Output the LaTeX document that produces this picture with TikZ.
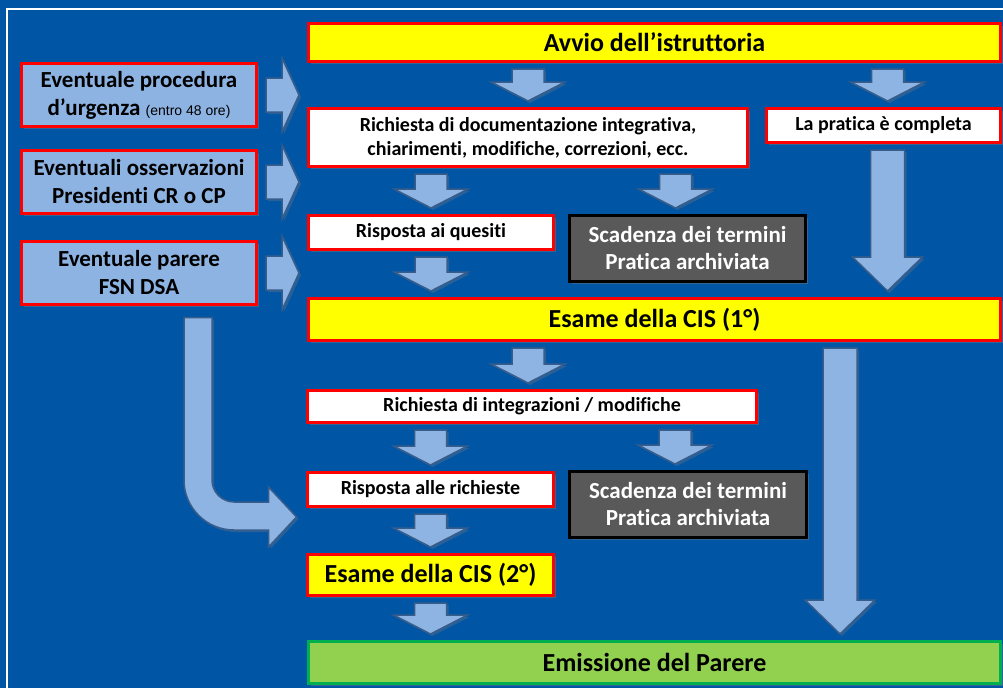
\documentclass[tikz,border=0pt]{standalone}
\usepackage{fontspec}
\setmainfont{Carlito}[Ligatures=NoCommon]
\newfontfamily\arialfont{Liberation Sans}
\usepackage{tikz}
\usetikzlibrary{calc,shadows}
\definecolor{myblue}{RGB}{0,85,165}
\definecolor{myred}{RGB}{255,0,0}
\definecolor{myyellow}{RGB}{255,255,0}
\definecolor{mylight}{RGB}{141,179,226}
\definecolor{myarrow}{RGB}{142,180,227}
\definecolor{myarrowline}{RGB}{56,93,138}
\definecolor{mygray}{RGB}{89,89,89}
\definecolor{mygreen}{RGB}{146,208,80}
\definecolor{mydarkgreen}{RGB}{0,176,80}

\begin{document}
\begin{tikzpicture}[x=1pt, y=-1pt,
    box/.style={draw=myred, line width=3pt, fill=white, align=center, inner sep=0pt,
      font=\bfseries\fontsize{20}{24}\selectfont,
      drop shadow={shadow xshift=2.5pt, shadow yshift=-2.5pt, opacity=.4}},
    sidebox/.style={box, fill=mylight, font=\bfseries\fontsize{23}{28}\selectfont,
      minimum width=235pt, minimum height=63pt},
    mainbox/.style={box, fill=myyellow, font=\bfseries\fontsize{26}{30}\selectfont},
    endbox/.style={mainbox, draw=mydarkgreen, fill=mygreen},
    stopbox/.style={box, draw=black, fill=mygray, text=white,
      font=\bfseries\fontsize{23}{27}\selectfont},
    arrowbox/.style={draw=myarrowline, fill=myarrow, line width=1.5pt,
      drop shadow={shadow xshift=2pt, shadow yshift=-2pt, opacity=.3}},
    blockdown/.style n args={3}{arrowbox, to path={let \p1=(\tikztostart), \p2=(\tikztotarget) in
      (\x2-#1,\y1-6pt) -- (\x2+#1,\y1-6pt) -- (\x2+#1,\y2+6pt+#3) -- (\x2+#2,\y2+6pt+#3)
      -- (\x2,\y2+6pt) -- (\x2-#2,\y2+6pt+#3) -- (\x2-#1,\y2+6pt+#3) -- cycle}},
    blockright/.style n args={3}{arrowbox, to path={let \p1=(\tikztostart), \p2=(\tikztotarget) in
      (\x1+8pt,\y1+#1) -- (\x2-8pt-#3,\y1+#1) -- (\x2-8pt-#3,\y1+#2) -- (\x2-8pt,\y1)
      -- (\x2-8pt-#3,\y1-#2) -- (\x2-8pt-#3,\y1-#1) -- (\x1+8pt,\y1-#1) -- cycle}},
    smalldown/.style={blockdown={16pt}{37pt}{19pt}},
    bigdown/.style={blockdown={17pt}{35pt}{34pt}},
    smallright/.style={blockright={17pt}{37pt}{17pt}},
    bendarrow/.style={arrowbox, to path={let \p1=(\tikztostart), \p2=(\tikztotarget) in
      (\x1+45pt,\y1-11.5pt) -- (\x1+45pt,\y2+9.5pt)
      .. controls (\x1+45pt,\y2-18.1pt) and (\x1+67.4pt,\y2-40.5pt) .. (\x1+95pt,\y2-40.5pt)
      -- (\x2-37.5pt,\y2-40.5pt) -- (\x2-37.5pt,\y2-57.5pt) -- (\x2-9.5pt,\y2-27.5pt)
      -- (\x2-37.5pt,\y2+2.5pt) -- (\x2-37.5pt,\y2-12.5pt) -- (\x1+95pt,\y2-12.5pt)
      .. controls (\x1+82.9pt,\y2-12.5pt) and (\x1+73pt,\y2-2.6pt) .. (\x1+73pt,\y2+9.5pt)
      -- (\x1+73pt,\y1-11.5pt) -- cycle}}]

    % background and frame
    \fill[myblue] (0,0) rectangle (1003,688);
    \useasboundingbox (0,0) rectangle (1003,688);
    \draw[white, line width=2pt] (7,688) -- (7,9) -- (1003,9);

    % left column
    \node[sidebox] (urg) at (139,95) {Eventuale procedura\\d’urgenza {\arialfont\mdseries\fontsize{14}{16}\selectfont (entro 48 ore)}};
    \node[sidebox] (oss) at (139,182) {Eventuali osservazioni\\Presidenti CR o CP};
    \node[sidebox] (parere) at (139,273) {Eventuale parere\\FSN DSA};

    % main flow
    \node[mainbox, minimum width=692pt, minimum height=38pt] (avvio) at (654.5,42.5) {Avvio dell’istruttoria};
    \node[box, minimum width=439pt, minimum height=58pt] (richdoc) at (528,137.5) {Richiesta di documentazione integrativa,\\chiarimenti, modifiche, correzioni, ecc.};
    \node[box, minimum width=234pt, minimum height=34pt] (completa) at (883.5,125.5) {La pratica è completa};
    \node[box, minimum width=245pt, minimum height=34pt] (risp1) at (431,232.5) {Risposta ai quesiti};
    \node[stopbox, minimum width=236pt, minimum height=66pt] (scad1) at (687.5,248.5) {Scadenza dei termini\\Pratica archiviata};
    \node[mainbox, minimum width=692pt, minimum height=42pt] (esame1) at (654.5,319.5) {Esame della CIS (1°)};
    \node[box, minimum width=449pt, minimum height=32pt] (richint) at (532,406.5) {Richiesta di integrazioni / modifiche};
    \node[box, minimum width=246pt, minimum height=34pt] (risp2) at (430.5,489.5) {Risposta alle richieste};
    \node[stopbox, minimum width=237pt, minimum height=66pt] (scad2) at (688,504.5) {Scadenza dei termini\\Pratica archiviata};
    \node[mainbox, minimum width=246pt, minimum height=41pt] (esame2) at (430.5,575) {Esame della CIS (2°)};
    \node[endbox, minimum width=692pt, minimum height=42pt] (emiss) at (654.5,662.5) {Emissione del Parere};

    % block arrows
    \path (avvio.south) edge[smalldown] (richdoc.north)
          (avvio.south) edge[smalldown] ($(completa.north)+(4,0)$)
          (richdoc.south) edge[smalldown] (risp1.north)
          (richdoc.south) edge[smalldown] ($(scad1.north)+(-12,0)$)
          (risp1.south) edge[smalldown] (esame1.north -| risp1.south)
          (completa.south) edge[bigdown] ($(esame1.north -| completa.south)+(4,0)$)
          (esame1.south) edge[smalldown] (richint.north -| richdoc.north)
          ($(esame1.south)+(185.5,0)$) edge[bigdown] ($(emiss.north)+(185.5,0)$)
          (richint.south) edge[smalldown] (risp2.north)
          (richint.south) edge[smalldown] ($(scad2.north)+(-13,0)$)
          (risp2.south) edge[smalldown] (esame2.north)
          (esame2.south) edge[smalldown] (emiss.north -| esame2.south)
          (urg.east) edge[smallright] (richdoc.west)
          (oss.east) edge[smallright] (richdoc.west)
          (parere.east) edge[smallright] (richdoc.west)
          (parere.south) edge[bendarrow] (risp2.west);
\end{tikzpicture}
\end{document}
